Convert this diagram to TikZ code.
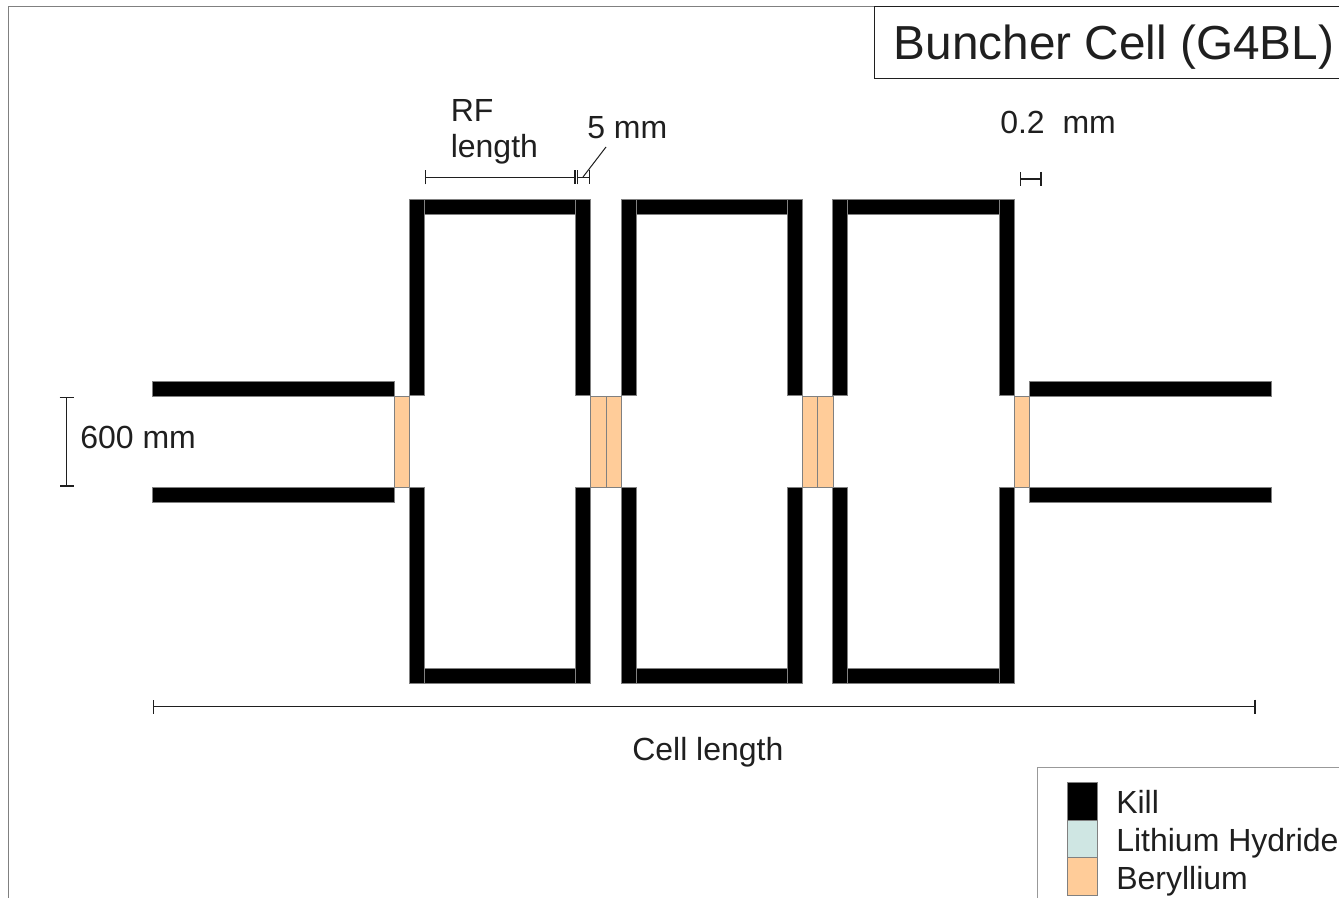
\documentclass[tikz,border=0pt]{standalone}
\usepackage{fontspec}
\setmainfont{Liberation Sans}
\usetikzlibrary{arrows.meta}
\definecolor{beryl}{HTML}{FFCC99}
\definecolor{lithium}{HTML}{CFE6E3}
\definecolor{inkgray}{HTML}{1F1F1F}
\tikzset{
  kill/.style={fill=black, draw=gray, line width=0.75pt},
  window/.style={fill=beryl, draw=gray, line width=0.75pt},
  dimline/.style={{Bar[width=10.5pt,length=0pt]}-{Bar[width=10.5pt,length=0pt]}, inkgray, line width=1pt},
  lbl/.style={anchor=base west, inner sep=0pt, text=inkgray, font=\fontsize{24}{24}\selectfont},
  lblbig/.style={anchor=base west, inner sep=0pt, text=inkgray, font=\fontsize{35.8}{36}\selectfont}
}
\begin{document}
\begin{tikzpicture}[x=0.75pt,y=-0.75pt]
  \useasboundingbox (0,0) rectangle (1339,898);
  \clip (0,0) rectangle (1339,898);
  % frame
  \draw[gray, line width=1pt] (8.5,898) -- (8.5,6.5) -- (1339,6.5);
  % pipes
  \foreach \xa/\xb in {152/394,1029.5/1271.5}{
    \filldraw[kill] (\xa,381.5) rectangle (\xb,396.5);
    \filldraw[kill] (\xa,487) rectangle (\xb,502);
  }
  % cavities
  \foreach \xa/\xr in {409.5/575.5,621/787,832.5/999}{
    \filldraw[kill] (\xa,199.5) rectangle ++(15,196.5); %upper left
    \filldraw[kill] (\xr,199.5) rectangle ++(15,196.5); %upper right
    \filldraw[kill] (\xa+15,199.5) rectangle (\xr,214.5); %top
    \filldraw[kill] (\xa,487) rectangle ++(15,196); %lower left
    \filldraw[kill] (\xr,487) rectangle ++(15,196); %lower right
    \filldraw[kill] (\xa+15,668.5) rectangle (\xr,683); %bottom
  }
  % windows
  \foreach \xa in {394,590.5,606,802,817.5,1014}{
    \filldraw[window] (\xa,396.5) rectangle ++(15.5,90.5);
  }
  % dimensions
  \coordinate (rfa) at (425,177.5);
  \coordinate (rfb) at (575.5,177.5);
  \coordinate (wa) at (576.5,177.5);
  \coordinate (wb) at (590,177.5);
  \coordinate (leadtop) at (606,147);
  \coordinate (leadend) at (583,177);
  \coordinate (gapa) at (1020,179);
  \coordinate (gapb) at (1041.5,179);
  \coordinate (pipea) at (66.5,397);
  \coordinate (pipeb) at (66.5,486.5);
  \coordinate (cella) at (153,706.5);
  \coordinate (cellb) at (1255.5,706.5);
  \draw[dimline] (rfa) -- (rfb);
  \draw[dimline] (wa) -- (wb);
  \draw[inkgray, line width=0.75pt] (leadtop) -- (leadend);
  \draw[dimline] (gapa) -- (gapb);
  \draw[dimline] (pipea) -- (pipeb);
  \draw[dimline] (cella) -- (cellb);
  \node[lbl] (rflabel) at (450.5,122) {RF};
  \node[lbl] (lenlabel) at (450.5,157.5) {length};
  \node[lbl] (wlabel) at (587,139) {5 mm};
  \node[lbl] (gaplabel) at (1000,134) {0.2~~mm};
  \node[lbl] (pipelabel) at (80,449) {600 mm};
  \node[lbl] (celllabel) at (632,760) {Cell length};
  % title
  \draw[inkgray, line width=0.75pt] (1345,6.5) -- (874.5,6.5) -- (874.5,79) -- (1345,79);
  \node[lblbig] (title) at (893.5,60) {Buncher Cell (G4BL)};
  % legend
  \draw[gray!80, line width=0.75pt] (1037,898) -- (1037,767) -- (1345,767);
  \filldraw[fill=black, draw=gray, line width=0.75pt] (1067,782) rectangle (1097,820);
  \filldraw[fill=lithium, draw=gray, line width=0.75pt] (1067,820) rectangle (1097,857.5);
  \filldraw[fill=beryl, draw=gray, line width=0.75pt] (1067,857.5) rectangle (1097,895);
  \node[lbl] (killlabel) at (1116,813) {Kill};
  \node[lbl] (lihlabel) at (1116,851) {Lithium Hydride};
  \node[lbl] (belabel) at (1116,889) {Beryllium};
\end{tikzpicture}
\end{document}
